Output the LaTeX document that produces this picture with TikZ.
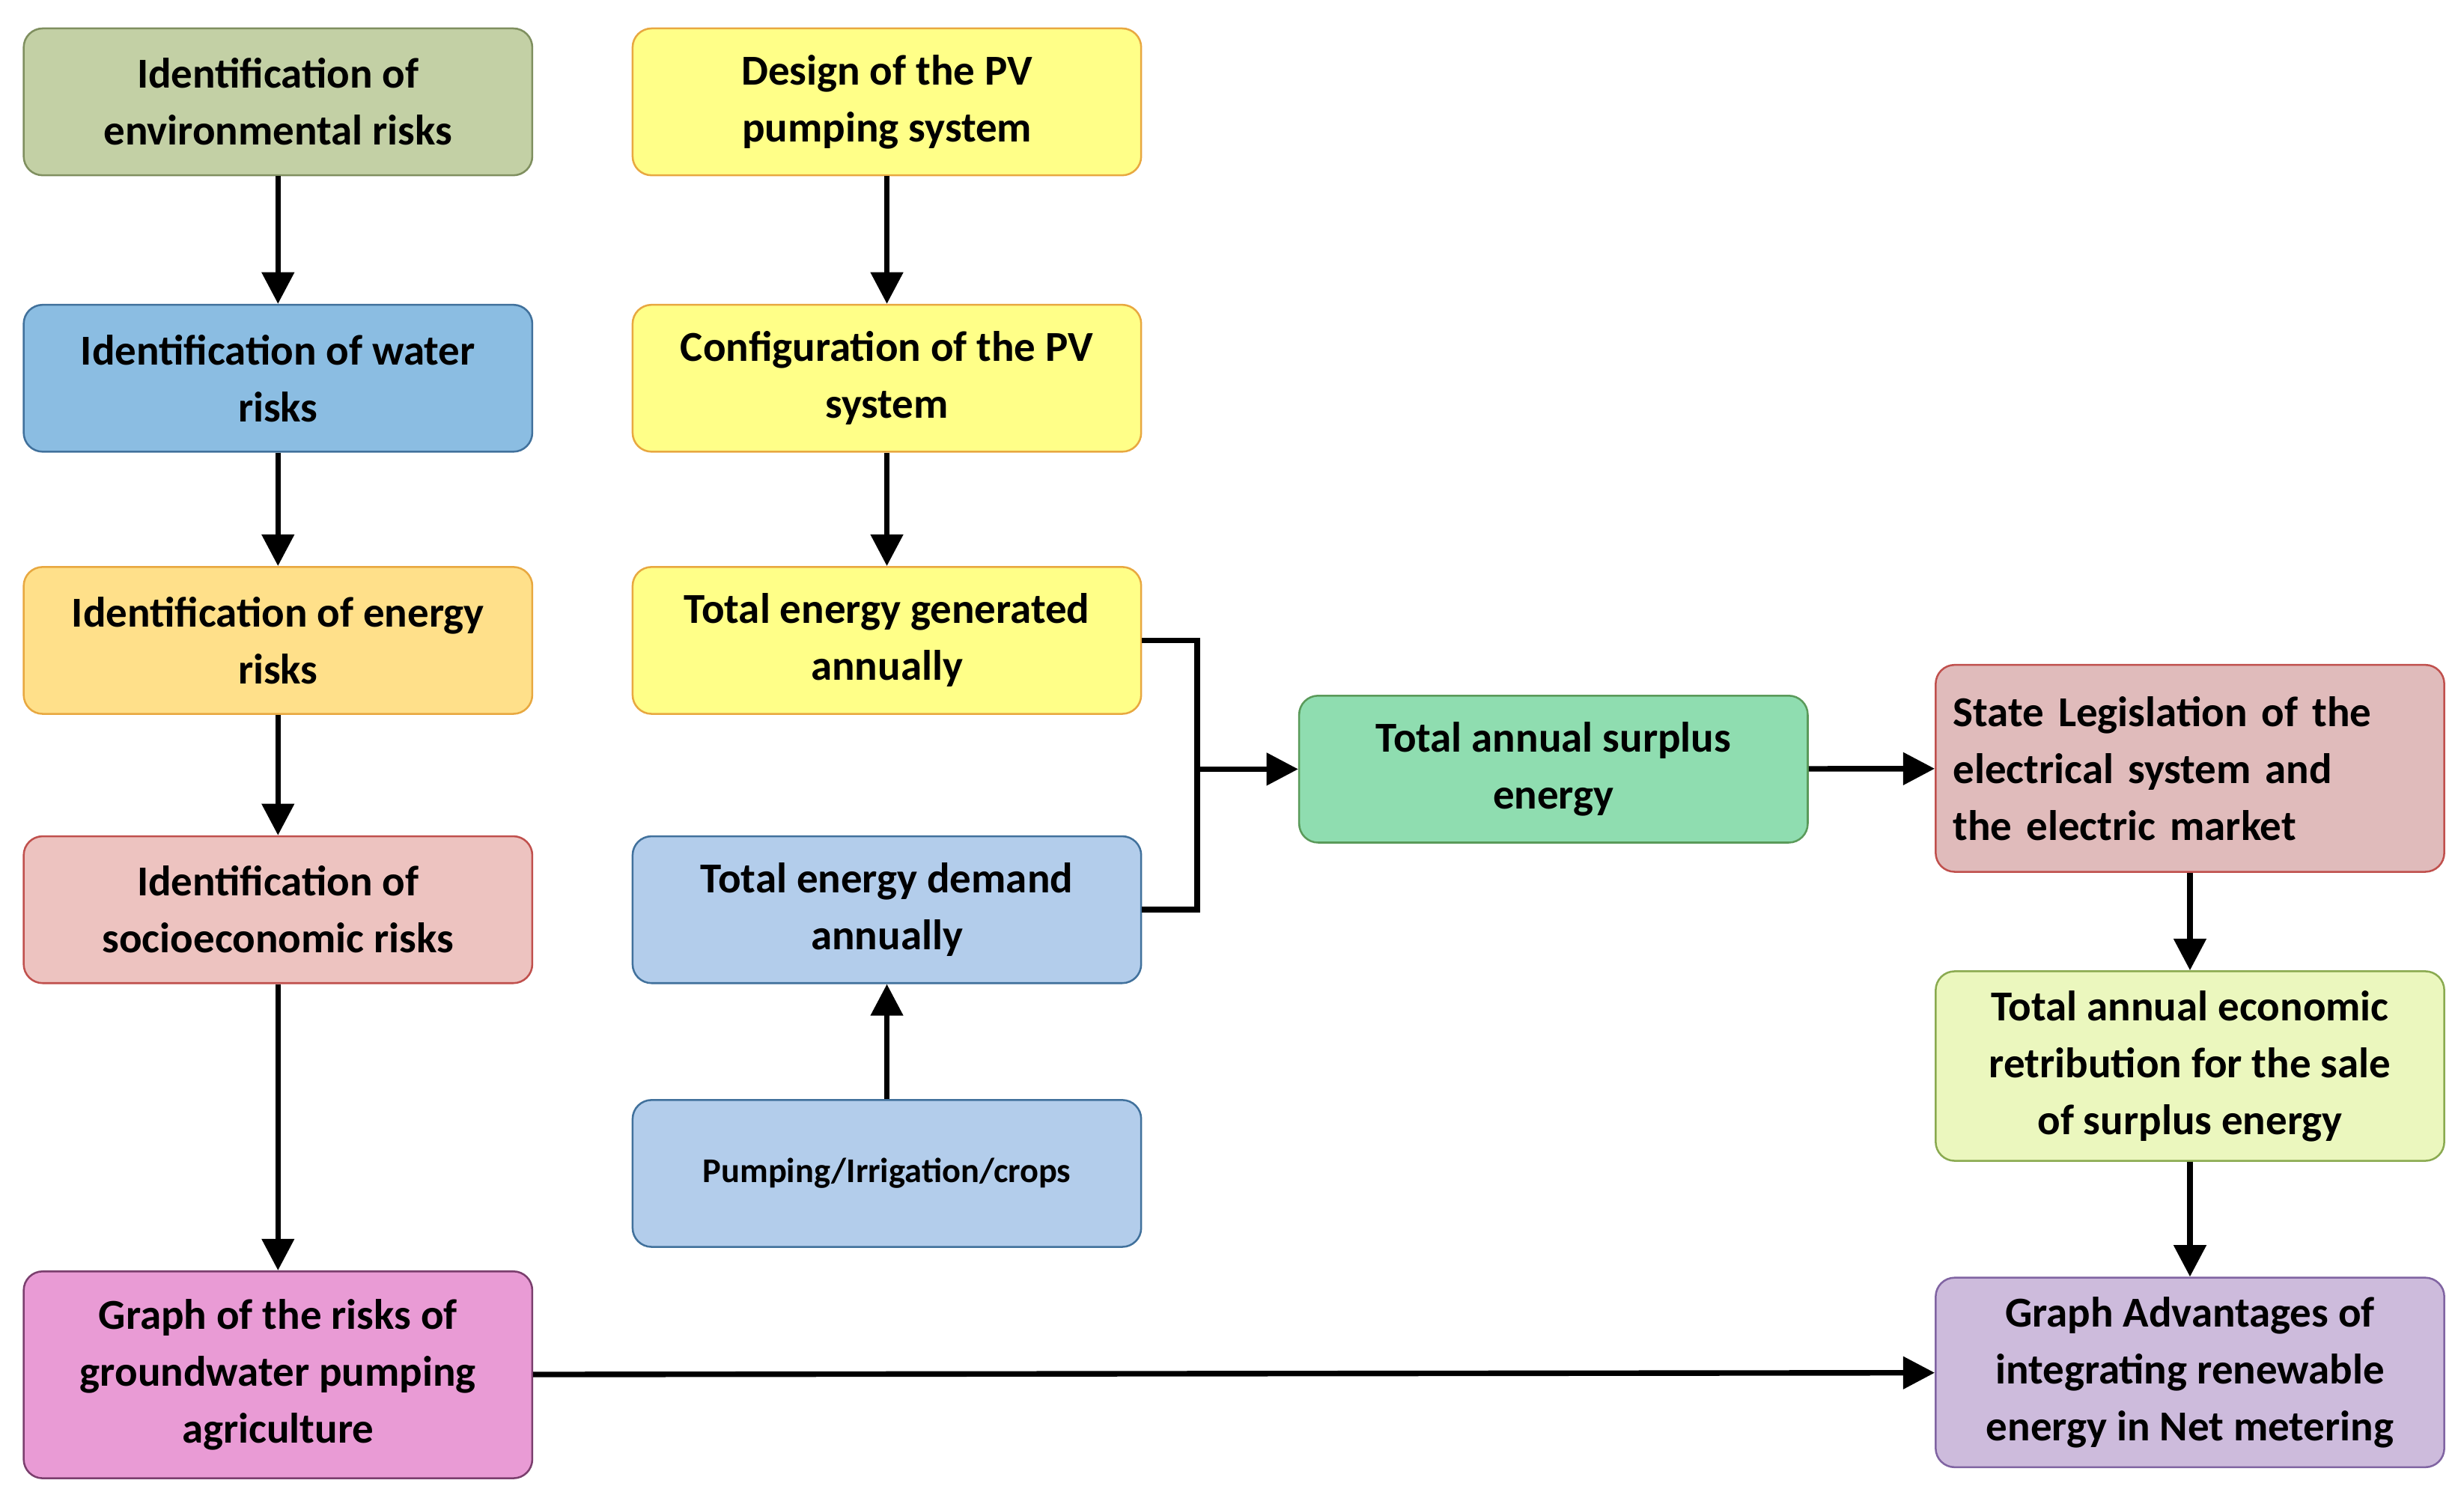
\documentclass[tikz,border=0pt]{standalone}
\usepackage{fontspec}
\setmainfont{Carlito}
\usetikzlibrary{arrows.meta}
\begin{document}
\begin{tikzpicture}[x=1pt,y=-1pt,
  box/.style={draw,line width=1.2pt,rounded corners=12pt,minimum width=322pt,minimum height=93pt,
    align=center,inner sep=2pt,font=\fontsize{27}{36}\selectfont\bfseries},
  arr/.style={line width=3.5pt,-{Triangle[length=20pt,width=20pt]}}]
\useasboundingbox (0,0) rectangle (1560,950);
\definecolor{cEnv}{HTML}{C3D0A5}\definecolor{bEnv}{HTML}{7F8F5F}
\definecolor{cWat}{HTML}{8BBDE2}\definecolor{bBlue}{HTML}{41719C}
\definecolor{cEn}{HTML}{FFE08A}\definecolor{bYel}{HTML}{E8A840}
\definecolor{cSoc}{HTML}{EDC3C0}\definecolor{bRed}{HTML}{C0504D}
\definecolor{cGr}{HTML}{E99BD5}\definecolor{bGr}{HTML}{7B3F6E}
\definecolor{cY}{HTML}{FFFF88}\definecolor{cDem}{HTML}{B3CDEB}
\definecolor{cSur}{HTML}{8FDDB0}\definecolor{bSur}{HTML}{5A9A5A}
\definecolor{cSt}{HTML}{E0BBBB}\definecolor{cEc}{HTML}{EBF7BE}\definecolor{bEc}{HTML}{8AAA50}
\definecolor{cAd}{HTML}{CDBBDC}\definecolor{bAd}{HTML}{8064A2}
\node[box,fill=cEnv,draw=bEnv] (env) at (176,64.5) {Identification of\\environmental risks};
\node[box,fill=cWat,draw=bBlue] (wat) at (176,239.5) {Identification of water\\risks};
\node[box,fill=cEn,draw=bYel] (en) at (176,405.5) {Identification of energy\\risks};
\node[box,fill=cSoc,draw=bRed] (soc) at (176,576) {Identification of\\socioeconomic risks};
\node[box,fill=cGr,draw=bGr,minimum height=131pt] (gr) at (176,870.5) {Graph of the risks of\\groundwater pumping\\agriculture};
\node[box,fill=cY,draw=bYel] (des) at (561.5,64.5) {Design of the PV\\pumping system};
\node[box,fill=cY,draw=bYel] (conf) at (561.5,239.5) {Configuration of the PV\\system};
\node[box,fill=cY,draw=bYel] (gen) at (561.5,405.5) {Total energy generated\\annually};
\node[box,fill=cDem,draw=bBlue] (dem) at (561.5,576) {Total energy demand\\annually};
\node[box,fill=cDem,draw=bBlue,font=\fontsize{22}{28}\selectfont\bfseries] (pump) at (561.5,743) {Pumping/Irrigation/crops};
\node[box,fill=cSur,draw=bSur] (sur) at (983.5,487) {Total annual surplus\\energy};
\node[box,fill=cSt,draw=bRed,minimum height=131pt,align=left,text width=300pt] (st) at (1386.5,486.5) {State Legislation of the\\electrical system and\\the electric market};
\node[box,fill=cEc,draw=bEc,minimum height=120pt] (ec) at (1386.5,675) {Total annual economic\\retribution for the sale\\of surplus energy};
\node[box,fill=cAd,draw=bAd,minimum height=120pt] (ad) at (1386.5,869) {Graph Advantages of\\integrating renewable\\energy in Net metering};
\coordinate (j) at (758,487);
\draw[arr] (env) -- (wat);
\draw[arr] (wat) -- (en);
\draw[arr] (en) -- (soc);
\draw[arr] (soc) -- (gr);
\draw[arr] (des) -- (conf);
\draw[arr] (conf) -- (gen);
\draw[arr] (pump) -- (dem);
\draw[line width=3.5pt] (gen.east) -| (j) |- (dem.east);
\draw[arr] (j) -- (sur);
\draw[arr] (sur) -- (st);
\draw[arr] (st) -- (ec);
\draw[arr] (ec) -- (ad);
\draw[arr] (gr) -- (ad);
\end{tikzpicture}
\end{document}
